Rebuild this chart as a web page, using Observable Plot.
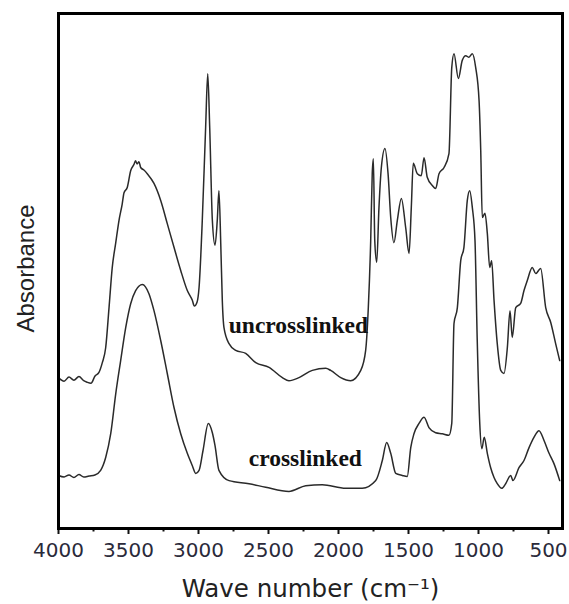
<!DOCTYPE html>
<html>
<head>
<meta charset="utf-8">
<script src="https://cdn.jsdelivr.net/npm/d3@7"></script>
<script src="https://cdn.jsdelivr.net/npm/@observablehq/plot@0.6"></script>
<style>
  body { margin: 0; background: #fff; }
  #chart svg { display: block; background: #fff; }
</style>
</head>
<body>
<div id="chart"></div>
<script>
// Wavenumber (cm^-1) and absorbance (arbitrary units, offset for display)
const uncWave = [4000,3960,3925,3890,3854,3820,3796,3768,3739,3711,3687,3663,3639,3616,3591,3568,3545,3532,3509,3484,3461,3450,3439,3425,3413,3390,3366,3318,3270,3223,3175,3127,3080,3044,3030,3010,2996,2973,2949,2934,2920,2901,2882,2866,2854,2841,2830,2818,2782,2734,2663,2591,2496,2401,2354,2282,2187,2091,2056,1984,1913,1841,1806,1787,1770,1759,1751,1741,1727,1711,1694,1668,1646,1627,1604,1580,1551,1520,1496,1480,1466,1437,1409,1389,1366,1330,1306,1282,1246,1211,1191,1175,1144,1116,1091,1068,1044,1020,996,984,973,954,937,920,906,889,866,841,818,794,775,759,734,699,675,651,616,591,556,520,484,449,420];
const uncAbs = [29.3,28.6,29.4,28.8,29.5,28.7,28.4,28.2,29.6,30.3,32.2,35.1,42.9,50.7,55.5,59.8,63.0,65.2,66.2,69.5,70.7,71.4,70.8,71.2,70.1,69.6,68.9,67.0,63.7,59.2,54.6,50.1,46.2,44.3,43.2,44.0,46.8,59.8,77.9,88.3,77.9,59.8,55.0,59.8,65.6,55.3,44.3,39.0,35.9,34.6,34.0,32.2,31.3,29.3,28.7,29.3,30.7,31.1,30.7,29.3,28.7,30.7,34.6,42.9,55.9,68.9,71.8,55.9,51.7,62.3,70.1,73.8,68.9,60.4,55.5,59.8,64.1,58.4,53.4,62.3,70.9,68.9,68.5,72.0,68.2,66.6,66.0,68.9,70.1,72.8,89.5,92.2,87.4,90.9,91.8,91.5,92.2,89.5,83.1,73.4,60.4,61.2,57.3,50.7,52.0,44.3,35.9,30.7,30.1,35.1,42.3,37.1,42.9,43.7,46.2,48.2,50.7,49.5,50.5,42.9,40.0,35.9,32.6];

const crossWave = [4000,3960,3925,3890,3854,3820,3782,3740,3699,3663,3627,3591,3556,3520,3484,3449,3401,3354,3318,3270,3223,3175,3127,3080,3044,3020,2996,2968,2930,2901,2882,2854,2782,2639,2520,2354,2234,2116,1949,1830,1734,1687,1656,1627,1591,1544,1509,1484,1461,1425,1389,1354,1306,1259,1211,1191,1175,1151,1127,1104,1080,1063,1044,1025,1009,991,976,959,937,913,889,866,834,806,770,754,711,675,639,604,568,532,496,461,420];
const crossAbs = [10.3,10.0,10.4,9.9,10.5,10.0,10.2,10.4,11.3,13.8,18.4,26.2,32.6,39.0,43.7,46.2,47.4,45.6,42.3,36.5,30.1,23.5,18.4,14.6,12.2,10.7,11.3,15.1,20.4,18.6,16.1,11.3,9.3,8.7,8.0,7.2,8.3,8.5,7.8,7.8,9.3,13.2,16.7,14.6,10.7,10.3,10.1,15.7,18.4,20.4,21.6,19.6,18.6,18.4,18.1,20.4,39.8,42.9,52.0,54.6,63.7,65.6,62.3,55.9,36.5,20.4,15.5,17.7,14.6,11.8,9.9,8.7,7.8,8.7,10.3,9.3,11.8,13.2,15.7,17.7,19.0,17.1,14.6,12.6,9.3];

const majorTicks = [4000,3500,3000,2500,2000,1500,1000,500];
const minorTicks = [3750,3250,2750,2250,1750,1250,750];

const seriesNames = ["uncrosslinked", "crosslinked"];
const labelWave = [2784, 2641];
const labelAbs = [37.9, 12.2];

const rows = [];
uncWave.forEach((w, i) => rows.push({series: seriesNames[0], w, a: uncAbs[i]}));
crossWave.forEach((w, i) => rows.push({series: seriesNames[1], w, a: crossAbs[i]}));
rows.sort((p, q) => d3.ascending(p.series, q.series) || d3.ascending(p.w, q.w));
const labels = seriesNames.map((name, i) => ({name, w: labelWave[i], a: labelAbs[i]}));

const chart = Plot.plot({
  width: 569,
  height: 604,
  marginTop: 13,
  marginBottom: 76,
  marginLeft: 58,
  marginRight: 7,
  style: {background: "#fff", color: "#222"},
  x: {domain: [4000, 400]},
  y: {domain: [0, 100], axis: null},
  marks: [
    Plot.line(rows, {x: "w", y: "a", z: "series", curve: "monotone-x", stroke: "#2a2a2a", strokeWidth: 1.5}),
    Plot.axisX({ticks: minorTicks, tickSize: 3.5, text: null, label: null, strokeWidth: 2, stroke: "#111"}),
    Plot.axisX({ticks: majorTicks, tickSize: 6, tickPadding: 8, tickFormat: d => String(d), fontSize: 20, fontFamily: "DejaVu Sans", fill: "#2a2a3a", label: null, strokeWidth: 2, stroke: "#111"}),
    Plot.frame({stroke: "#000", strokeWidth: 3}),
    Plot.text(labels, {x: "w", y: "a", text: "name", textAnchor: "start", lineAnchor: "bottom", fontFamily: "Liberation Serif", fontWeight: "bold", fontSize: 23.5, fill: "#111"}),
    Plot.text(["Absorbance"], {frameAnchor: "left", rotate: -90, dx: -25, dy: -2.5, lineAnchor: "bottom", textAnchor: "middle", fontFamily: "Liberation Sans", fontSize: 24, fill: "#222"}),
    Plot.text(["Wave number (cm\u207B\u00B9)"], {frameAnchor: "bottom", dy: 68, lineAnchor: "bottom", textAnchor: "middle", fontFamily: "DejaVu Sans", fontSize: 24.5, fill: "#222"})
  ]
});
document.getElementById("chart").appendChild(chart);
</script>
</body>
</html>
